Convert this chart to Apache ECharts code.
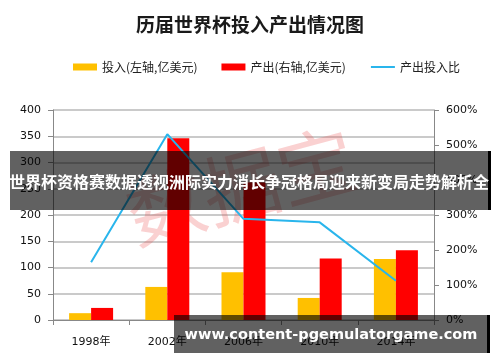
<!DOCTYPE html>
<html>
<head>
<meta charset="utf-8">
<script src="https://cdn.jsdelivr.net/npm/echarts@6/dist/echarts.min.js"></script>
<style>
html,body{margin:0;padding:0;background:#fff;}
#c{width:500px;height:362px;}
</style>
</head>
<body>
<div id="c"></div>
<script>
const categories = ['1998年', '2002年', '2006年', '2010年', '2014年'];
const investment = [13, 63, 91, 42, 116];
const output = [23, 346, 262, 117, 133];
const ratio = [165, 531, 289, 279, 112];
const leftTicks = { min: 0, max: 400, interval: 50 };
const rightTicks = { min: 0, max: 600, interval: 100 };
const seriesNames = ['投入(左轴,亿美元)', '产出(右轴,亿美元)', '产出投入比'];
const titleText = '历届世界杯投入产出情况图';
const bannerText = '世界杯资格赛数据透视洲际实力消长争冠格局迎来新变局走势解析全';
const footerText = 'www.content-pgemulatorgame.com';
const stampText = '数据宝';

const FONT = 'DejaVu Sans, "Noto Sans CJK SC", sans-serif';
const CJK = '"Noto Sans CJK SC", sans-serif';
const chart = echarts.init(document.getElementById('c'));
chart.setOption({
  animation: false,
  backgroundColor: '#fff',
  title: {
    text: titleText, left: 'center', top: 10,
    textStyle: { fontSize: 19, fontWeight: 'bold', color: '#1a1a1a', fontFamily: CJK }
  },
  legend: {
    left: 68, top: 56, itemGap: 24, itemWidth: 24, itemHeight: 7,
    textStyle: { fontSize: 12, color: '#222', fontFamily: CJK },
    data: [
      { name: seriesNames[0], icon: 'rect' },
      { name: seriesNames[1], icon: 'rect' },
      { name: seriesNames[2], itemStyle: { opacity: 0 }, lineStyle: { width: 2, color: '#29B5EC' } }
    ]
  },
  grid: { left: 53, right: 66, top: 110, bottom: 42 },
  xAxis: {
    type: 'category', data: categories,
    axisLine: { lineStyle: { color: '#888', width: 1 } },
    axisTick: { show: true, length: 5, lineStyle: { color: '#888' } },
    axisLabel: { margin: 17, fontSize: 11, color: '#111', fontFamily: FONT }
  },
  yAxis: [
    {
      type: 'value', min: leftTicks.min, max: leftTicks.max, interval: leftTicks.interval,
      axisLine: { show: true, lineStyle: { color: '#888' } },
      axisTick: { show: true, length: 5, lineStyle: { color: '#888' } },
      axisLabel: { margin: 12, fontSize: 11, color: '#111', fontFamily: FONT },
      splitLine: { show: true, lineStyle: { color: '#b8b8b8', width: 1.5 } }
    },
    {
      type: 'value', min: rightTicks.min, max: rightTicks.max, interval: rightTicks.interval,
      position: 'right',
      axisLine: { show: true, lineStyle: { color: '#888' } },
      axisTick: { show: true, length: 5, lineStyle: { color: '#888' } },
      axisLabel: { margin: 12, fontSize: 11, color: '#111', fontFamily: FONT, formatter: '{value}%' },
      splitLine: { show: false }
    }
  ],
  series: [
    { name: seriesNames[0], type: 'bar', yAxisIndex: 0, data: investment, barWidth: 22, barGap: '0%', itemStyle: { color: '#FFC000' } },
    { name: seriesNames[1], type: 'bar', yAxisIndex: 0, data: output, barWidth: 22, barGap: '0%', itemStyle: { color: '#FF0000' } },
    { name: seriesNames[2], type: 'line', yAxisIndex: 1, data: ratio, symbol: 'none', lineStyle: { color: '#29B5EC', width: 2 }, itemStyle: { color: '#29B5EC' }, z: 5 }
  ],
  graphic: [
    { type: 'text', x: 241, y: 186, rotation: 15 * Math.PI / 180, z: 1,
      style: { text: stampText, align: 'center', verticalAlign: 'middle', font: '78px ' + CJK, fill: 'rgba(235,70,70,0.25)' } },
    { type: 'rect', z: 100, shape: { x: 10, y: 151, width: 478, height: 59 }, style: { fill: 'rgba(0,0,0,0.62)' } },
    { type: 'rect', z: 100, shape: { x: 488, y: 151, width: 3, height: 59 }, style: { fill: '#000' } },
    { type: 'text', z: 101, x: 249, y: 182,
      style: { text: bannerText, align: 'center', verticalAlign: 'middle', font: 'bold 16px ' + CJK, fill: '#fff' } },
    { type: 'rect', z: 100, shape: { x: 174, y: 315, width: 313, height: 38 }, style: { fill: 'rgba(0,0,0,0.62)' } },
    { type: 'rect', z: 100, shape: { x: 487, y: 315, width: 3, height: 38 }, style: { fill: '#000' } },
    { type: 'text', z: 101, x: 331, y: 335,
      style: { text: footerText, align: 'center', verticalAlign: 'middle', font: 'bold 14.5px DejaVu Sans, sans-serif', fill: '#fff' } }
  ]
});
</script>
</body>
</html>
